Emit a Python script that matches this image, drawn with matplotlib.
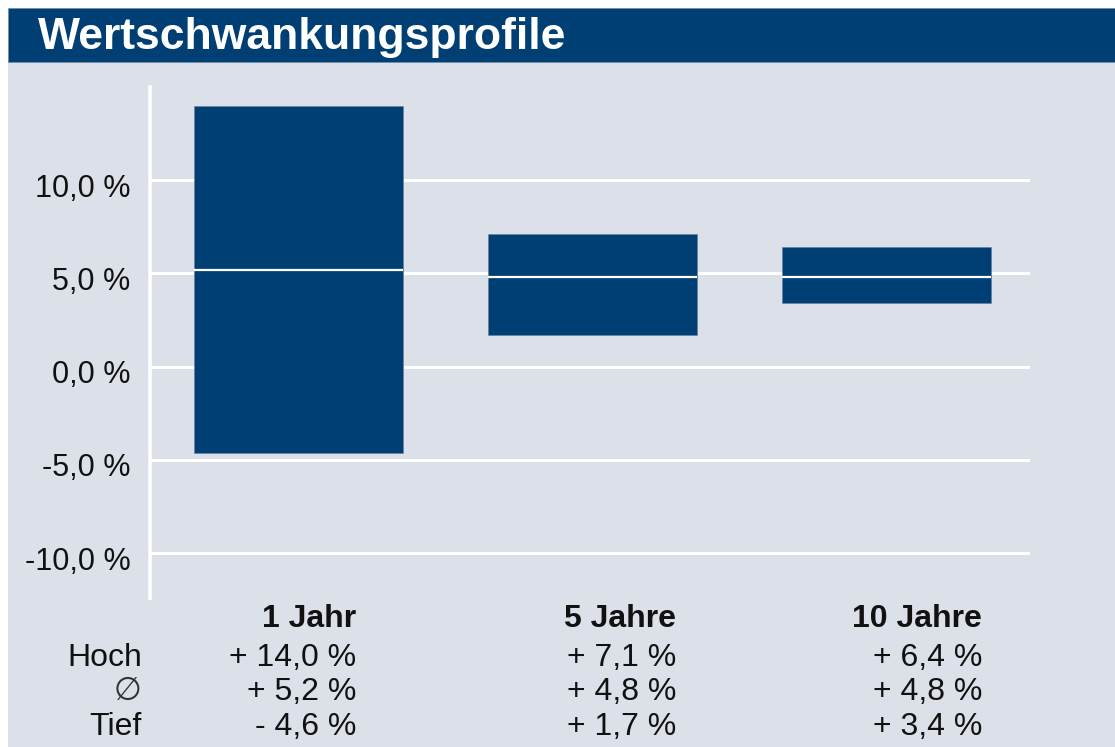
import matplotlib
matplotlib.use('Agg')
import matplotlib.pyplot as plt
import matplotlib.transforms as mtransforms
from matplotlib.patches import Rectangle

# data
periods = ['1 Jahr', '5 Jahre', '10 Jahre']
hoch = [14.0, 7.1, 6.4]
mittel = [5.2, 4.8, 4.8]
tief = [-4.6, 1.7, 3.4]
row_labels = ['Hoch', '\u2205', 'Tief']
yticks = [-10, -5, 0, 5, 10]

# style
navy = '#003f73'
panel = '#dce0e8'
txt = '#111111'
W, H = 1115, 747
fs = 23

plt.rcParams['font.family'] = ['Liberation Sans', 'DejaVu Sans']


def fmt_pct(v):
    sign = '+' if v >= 0 else '-'
    return f'{sign} {abs(v):.1f} %'.replace('.', ',')


fig = plt.figure(figsize=(W / 100, H / 100), dpi=100)
fig.patch.set_facecolor('white')

# panel background and title bar (pixel coordinates converted to figure fractions)
fig.patches.append(Rectangle((8 / W, 0), 1 - 8 / W, 1 - 62 / H, transform=fig.transFigure,
                             facecolor=panel, edgecolor='none', zorder=-2))
fig.patches.append(Rectangle((8 / W, 1 - 62 / H), 1 - 8 / W, 54 / H, transform=fig.transFigure,
                             facecolor=navy, edgecolor='#6f8fb0', linewidth=0.6, zorder=-2))
fig.text(38 / W, 1 - 38 / H, 'Wertschwankungsprofile', color='white', fontsize=32,
         fontweight='bold', ha='left', va='center')

ax = fig.add_axes([150 / W, 1 - 598 / H, (1030 - 150) / W, (598 - 87) / H])
ax.set_facecolor('none')
ax.set_xlim(-0.506, 2.49)
ax.set_ylim(-12.4, 15.0)

x = range(len(periods))
bw = 0.712
ax.bar(x, [h - t for h, t in zip(hoch, tief)], bottom=tief, width=bw, color=navy,
       edgecolor='#5f7fa3', linewidth=0.4, zorder=3)
for i, m in zip(x, mittel):
    ax.hlines(m, i - bw / 2, i + bw / 2, color='white', linewidth=1.6, zorder=4)

ax.set_yticks(yticks)
ax.set_yticklabels([f'{v:.1f} %'.replace('.', ',') for v in yticks], fontsize=22, color=txt)
ax.tick_params(axis='y', length=0, pad=14)
offset = mtransforms.ScaledTranslation(0, -5 / 100, fig.dpi_scale_trans)
for lbl in ax.get_yticklabels():
    lbl.set_transform(lbl.get_transform() + offset)
ax.set_xticks([])
ax.grid(axis='y', color='white', linewidth=2.2, zorder=1)
for s in ['top', 'right', 'bottom']:
    ax.spines[s].set_visible(False)
ax.spines['left'].set_color('white')
ax.spines['left'].set_linewidth(2.6)

# table under the chart
col_right = [356, 676, 982]
row_y = [658, 692, 727]
for cx, name, h, m, t in zip(col_right, periods, hoch, mittel, tief):
    fig.text(cx / W, 1 - 619 / H, name, fontsize=fs, fontweight='bold', color=txt,
             ha='right', va='center')
    for ry, v in zip(row_y, [h, m, t]):
        fig.text(cx / W, 1 - ry / H, fmt_pct(v), fontsize=fs, color=txt, ha='right', va='center')
for ry, lab in zip(row_y, row_labels):
    fig.text(142 / W, 1 - ry / H, lab, fontsize=fs, color=txt if lab != '\u2205' else '#333333',
             ha='right', va='center')

fig.savefig('out.png', dpi=100, facecolor=fig.get_facecolor())
